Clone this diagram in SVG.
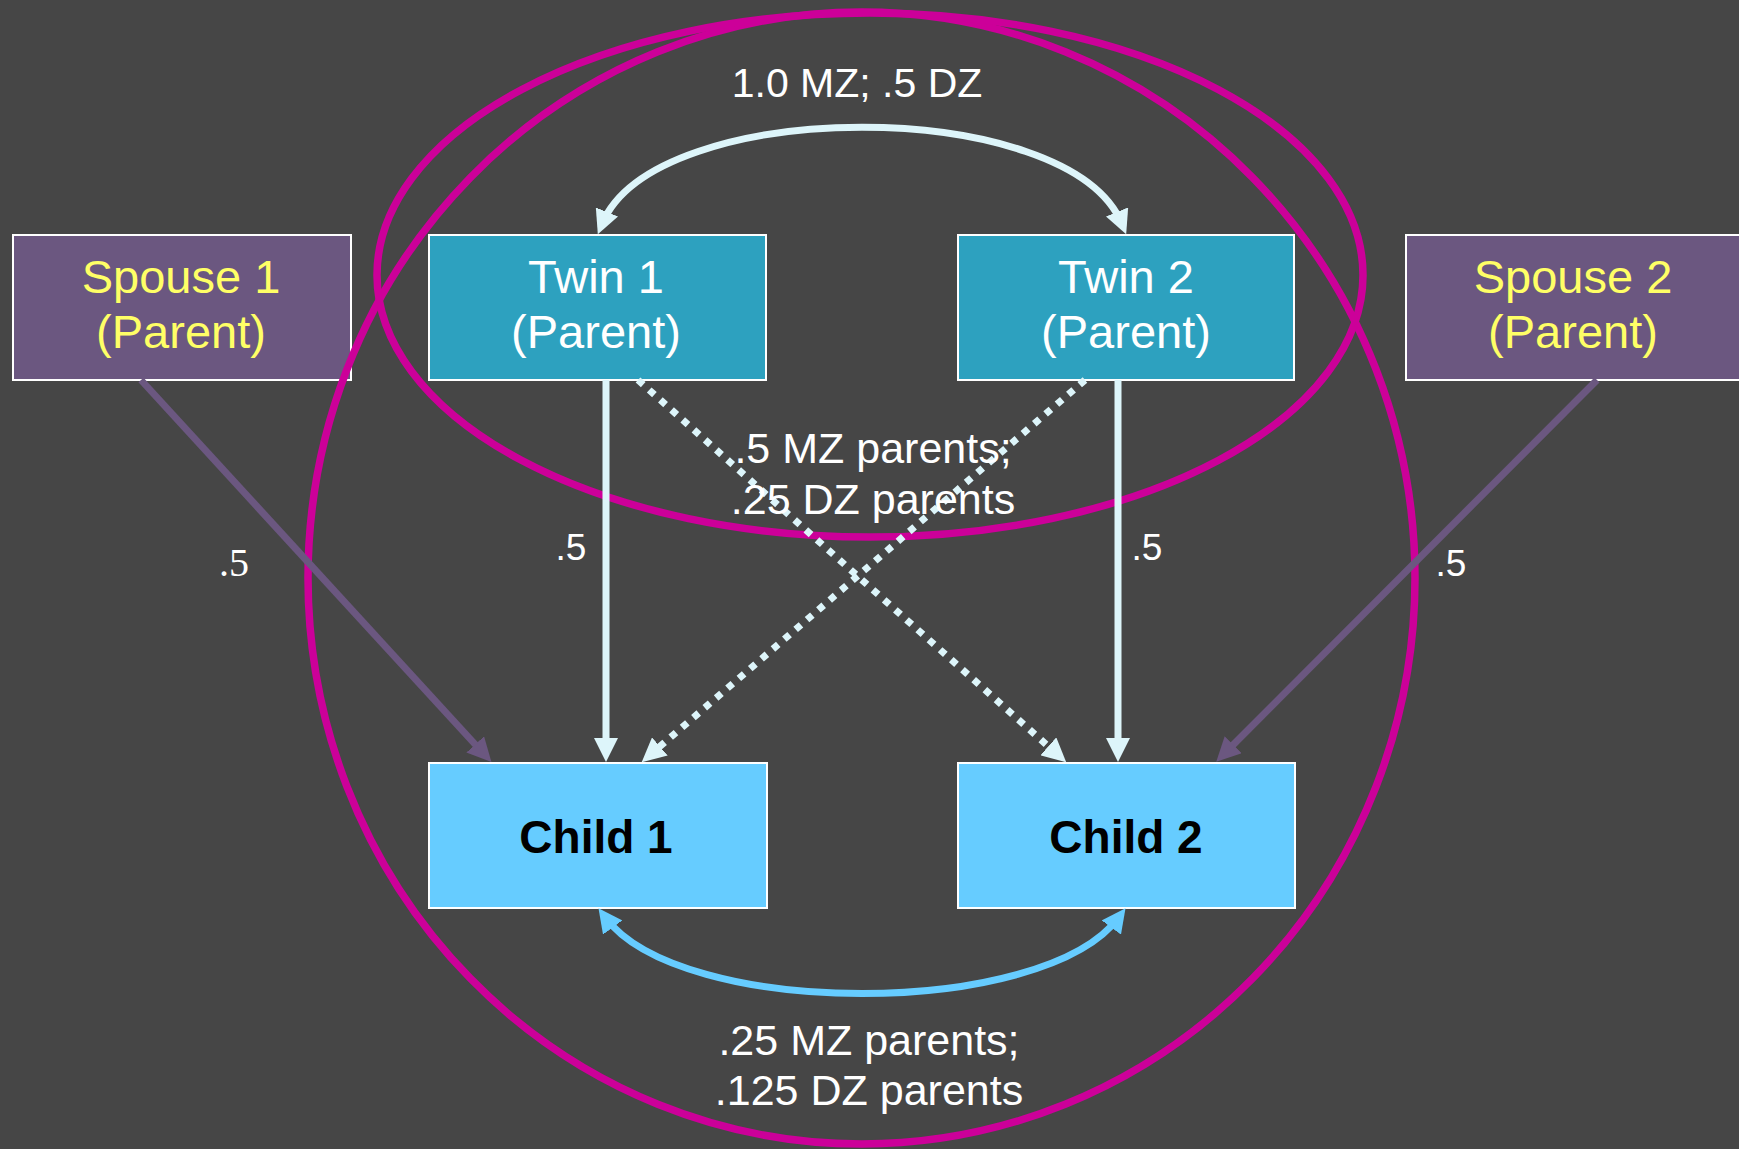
<svg xmlns="http://www.w3.org/2000/svg" width="1739" height="1149" viewBox="0 0 1739 1149">
  <style>
    .lbl { font-family: "Liberation Sans", Arial, sans-serif; fill: #FFFFFF; text-anchor: middle; }
    .box { stroke: #FFFFFF; stroke-width: 2; }
    .spouse { fill: #6B5780; }
    .twin { fill: #2DA1BF; }
    .child { fill: #66CCFF; }
    .ell { fill: none; stroke: #CC0099; stroke-width: 7.5; }
    .pale { fill: none; stroke: #DDF5FA; stroke-width: 7; }
    .purp { fill: none; stroke: #6B5780; stroke-width: 7; }
    .blue { fill: none; stroke: #66CCFF; stroke-width: 7; }
  </style>
  <defs>
    <marker id="ahPale" viewBox="0 0 24 24" markerUnits="userSpaceOnUse" markerWidth="24" markerHeight="24" refX="13" refY="12" orient="auto-start-reverse">
      <path d="M0,0 L24,12 L0,24 z" fill="#DDF5FA"/>
    </marker>
    <marker id="ahPurp" viewBox="0 0 24 24" markerUnits="userSpaceOnUse" markerWidth="24" markerHeight="24" refX="13" refY="12" orient="auto-start-reverse">
      <path d="M0,0 L24,12 L0,24 z" fill="#6B5780"/>
    </marker>
    <marker id="ahBlue" viewBox="0 0 24 24" markerUnits="userSpaceOnUse" markerWidth="24" markerHeight="24" refX="13" refY="12" orient="auto-start-reverse">
      <path d="M0,0 L24,12 L0,24 z" fill="#66CCFF"/>
    </marker>
  </defs>
  <rect width="1739" height="1149" fill="#464646"/>

  <g id="nodes">
    <g id="spouse1">
      <rect class="box spouse" x="13" y="235" width="338" height="145"/>
      <text class="lbl" x="181" y="293" font-size="47" style="fill:#FFFF66">Spouse 1</text>
      <text class="lbl" x="181" y="348" font-size="47" style="fill:#FFFF66">(Parent)</text>
    </g>
    <g id="twin1">
      <rect class="box twin" x="429" y="235" width="337" height="145"/>
      <text class="lbl" x="596" y="293" font-size="47">Twin 1</text>
      <text class="lbl" x="596" y="348" font-size="47">(Parent)</text>
    </g>
    <g id="twin2">
      <rect class="box twin" x="958" y="235" width="336" height="145"/>
      <text class="lbl" x="1126" y="293" font-size="47">Twin 2</text>
      <text class="lbl" x="1126" y="348" font-size="47">(Parent)</text>
    </g>
    <g id="spouse2">
      <rect class="box spouse" x="1406" y="235" width="345" height="145"/>
      <text class="lbl" x="1573" y="293" font-size="47" style="fill:#FFFF66">Spouse 2</text>
      <text class="lbl" x="1573" y="348" font-size="47" style="fill:#FFFF66">(Parent)</text>
    </g>
    <g id="child1">
      <rect class="box child" x="429" y="763" width="338" height="145"/>
      <text class="lbl" x="596" y="853" font-size="46" font-weight="bold" style="fill:#000000">Child 1</text>
    </g>
    <g id="child2">
      <rect class="box child" x="958" y="763" width="337" height="145"/>
      <text class="lbl" x="1126" y="853" font-size="46" font-weight="bold" style="fill:#000000">Child 2</text>
    </g>
  </g>

  <g id="ellipses">
    <ellipse class="ell" cx="861.5" cy="578" rx="553.5" ry="566"/>
    <ellipse class="ell" cx="870" cy="275" rx="493" ry="262"/>
  </g>

  <g id="connectors">
    <path class="pale" d="M602,224 C655,95 1069,95 1122,224" marker-start="url(#ahPale)" marker-end="url(#ahPale)"/>
    <line class="pale" x1="606" y1="380" x2="606" y2="751" marker-end="url(#ahPale)"/>
    <line class="pale" x1="1118" y1="380" x2="1118" y2="751" marker-end="url(#ahPale)"/>
    <line class="pale" x1="638" y1="380" x2="1058" y2="755" stroke-dasharray="7 8" marker-end="url(#ahPale)"/>
    <line class="pale" x1="1085" y1="380" x2="650" y2="755" stroke-dasharray="7 8" marker-end="url(#ahPale)"/>
    <line class="purp" x1="141" y1="380" x2="484" y2="754" marker-end="url(#ahPurp)"/>
    <line class="purp" x1="1597" y1="380" x2="1224" y2="754" marker-end="url(#ahPurp)"/>
    <path class="blue" d="M605,917 C680,1019 1044,1019 1119,917" marker-start="url(#ahBlue)" marker-end="url(#ahBlue)"/>
  </g>

  <g id="labels">
    <text class="lbl" x="857" y="97" font-size="41">1.0 MZ; .5 DZ</text>
    <text class="lbl" x="873" y="463" font-size="43">.5 MZ parents;</text>
    <text class="lbl" x="873" y="514" font-size="43">.25 DZ parents</text>
    <text class="lbl" x="869" y="1055" font-size="43">.25 MZ parents;</text>
    <text class="lbl" x="869" y="1105" font-size="43">.125 DZ parents</text>
    <text x="234" y="576" font-size="40" text-anchor="middle" fill="#FFFFFF" font-family="Liberation Serif, serif">.5</text>
    <text class="lbl" x="571" y="560" font-size="37">.5</text>
    <text class="lbl" x="1147" y="560" font-size="37">.5</text>
    <text class="lbl" x="1451" y="576" font-size="37">.5</text>
  </g>
</svg>
